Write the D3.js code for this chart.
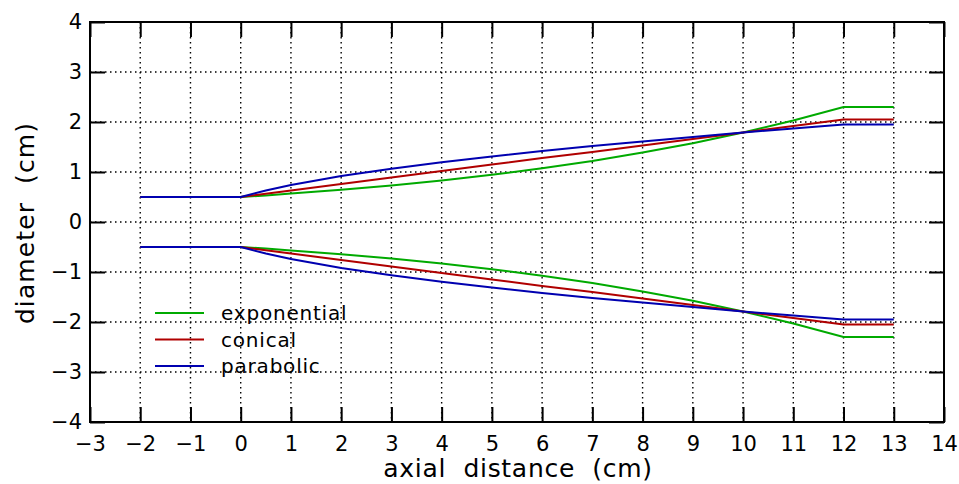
<!DOCTYPE html>
<html>
<head>
<meta charset="utf-8">
<script src="https://cdn.jsdelivr.net/npm/d3@7"></script>
<style>
  body { margin: 0; background: #fff; }
  text { font-family: "DejaVu Sans", sans-serif; fill: #000; }
</style>
</head>
<body>
<script>
// axial positions (cm) and horn radius profiles
const xs          = [-2, 0, 0.5, 1, 2, 3, 4, 5, 6, 7, 8, 9, 10, 11, 12, 13];
const exponential = [0.5, 0.5, 0.53, 0.57, 0.645, 0.73, 0.83, 0.945, 1.075, 1.22, 1.39, 1.575, 1.79, 2.03, 2.3, 2.3];
const conical     = [0.5, 0.5, 0.565, 0.63, 0.76, 0.89, 1.02, 1.15, 1.28, 1.40, 1.53, 1.66, 1.79, 1.92, 2.05, 2.05];
const parabolic   = [0.5, 0.5, 0.63, 0.74, 0.92, 1.065, 1.195, 1.31, 1.42, 1.52, 1.61, 1.70, 1.79, 1.87, 1.95, 1.95];
const xTicks = d3.range(-3, 15);
const yTicks = d3.range(-4, 5);

const series = [
  {name: "exponential", color: "#00aa00", values: exponential},
  {name: "conical",     color: "#b00000", values: conical},
  {name: "parabolic",   color: "#0000b0", values: parabolic}
];

let margin = {top: 22, right: 15, bottom: 62, left: 90};
let W = 959, H = 484;
let width = W - margin.left - margin.right;
let height = H - margin.top - margin.bottom;

let x = d3.scaleLinear().domain([-3, 14]).range([0, width]);
let y = d3.scaleLinear().domain([-4, 4]).range([height, 0]);

let svg = d3.select("body").append("svg")
  .attr("width", W).attr("height", H)
  .append("g")
  .attr("transform", "translate(" + margin.left + "," + margin.top + ")");

// dotted grid
svg.append("g").selectAll("line").data(xTicks.slice(1, -1)).join("line")
  .attr("x1", d => x(d)).attr("x2", d => x(d))
  .attr("y1", 0).attr("y2", height)
  .attr("stroke", "#000").attr("stroke-width", 1.4)
  .attr("stroke-dasharray", "1.5,3.5");
svg.append("g").selectAll("line").data(yTicks.slice(1, -1)).join("line")
  .attr("y1", d => y(d)).attr("y2", d => y(d))
  .attr("x1", 0).attr("x2", width)
  .attr("stroke", "#000").attr("stroke-width", 1.4)
  .attr("stroke-dasharray", "1.5,3.5");

// axes with inward ticks on all four sides
let tl = 15;
svg.append("g").attr("transform", "translate(0," + height + ")")
  .call(d3.axisBottom(x).tickValues(xTicks).tickSize(-tl).tickPadding(14).tickFormat(d3.format("d")));
svg.append("g")
  .call(d3.axisTop(x).tickValues(xTicks).tickSize(-tl).tickFormat(""));
svg.append("g")
  .call(d3.axisLeft(y).tickValues(yTicks).tickSize(-tl).tickPadding(8).tickFormat(d3.format("d")));
svg.append("g").attr("transform", "translate(" + width + ",0)")
  .call(d3.axisRight(y).tickValues(yTicks).tickSize(-tl).tickFormat(""));

svg.selectAll(".domain").remove();
svg.selectAll(".tick line").attr("stroke", "#000").attr("stroke-width", 2);
svg.selectAll(".tick text").style("font-size", "21px").style("font-family", "DejaVu Sans, sans-serif")
  .text(function(d) { return d3.select(this).text().replace("-", "\u2212"); });

svg.append("rect").attr("width", width).attr("height", height)
  .attr("fill", "none").attr("stroke", "#000").attr("stroke-width", 2);

// curves: upper and mirrored lower wall
let line = d3.line().x((d, i) => x(xs[i])).y(d => y(d));
series.forEach(s => {
  [1, -1].forEach(sign => {
    svg.append("path")
      .datum(s.values.map(v => sign * v))
      .attr("d", line)
      .attr("fill", "none")
      .attr("stroke", s.color)
      .attr("stroke-width", 2);
  });
});

// legend
series.forEach((s, i) => {
  let ly = 291 + i * 26.5;
  svg.append("line")
    .attr("x1", 65).attr("x2", 114).attr("y1", ly).attr("y2", ly)
    .attr("stroke", s.color).attr("stroke-width", 2);
  svg.append("text")
    .attr("x", 131).attr("y", ly).attr("dy", "0.35em")
    .style("font-size", "20px")
    .style("letter-spacing", "0.8px")
    .text(s.name);
});

// axis titles
svg.append("text")
  .attr("x", 428).attr("y", height + 55)
  .attr("text-anchor", "middle")
  .style("font-size", "25px")
  .style("letter-spacing", "0.7px")
  .style("white-space", "pre")
  .text("axial  distance  (cm)");
svg.append("text")
  .attr("transform", "translate(-56," + (height / 2 + 1) + ") rotate(-90)")
  .attr("text-anchor", "middle")
  .style("font-size", "25px")
  .style("letter-spacing", "1.1px")
  .style("white-space", "pre")
  .text("diameter  (cm)");
</script>
</body>
</html>
